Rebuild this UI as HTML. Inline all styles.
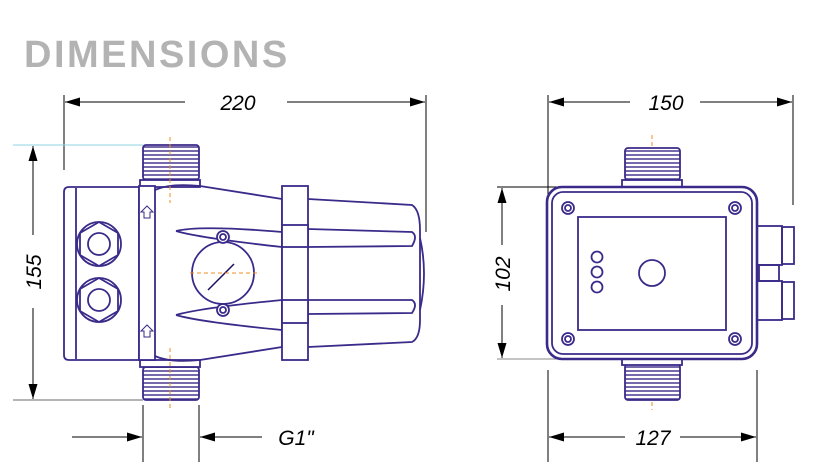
<!DOCTYPE html>
<html><head><style>
html,body{margin:0;padding:0;background:#fff;}
svg{display:block;}
text{font-family:"Liberation Sans",sans-serif;}
</style></head><body>
<svg width="840" height="467" viewBox="0 0 840 467" xmlns="http://www.w3.org/2000/svg">
<defs>
<marker id="a" viewBox="0 0 10 6" refX="10" refY="3" markerWidth="20" markerHeight="9" markerUnits="userSpaceOnUse" orient="auto"><path d="M0,0 L10,3 L0,6 Z" fill="#000"/></marker>
<pattern id="th" width="4" height="4" patternUnits="userSpaceOnUse"><rect width="4" height="4" fill="#fff"/><line x1="0" y1="3" x2="4" y2="3" stroke="#3b2a8a" stroke-width="1.4"/></pattern>
</defs>
<text x="24" y="67" font-size="38" font-weight="bold" fill="#b3b3b3" letter-spacing="2.5">DIMENSIONS</text>

<g stroke="#000" stroke-width="1" fill="none">
<line x1="64" y1="95" x2="64" y2="170"/>
<line x1="426" y1="95" x2="426" y2="232"/>
<line x1="185" y1="102" x2="65" y2="102" marker-end="url(#a)"/>
<line x1="287" y1="102" x2="425" y2="102" marker-end="url(#a)"/>
<line x1="33" y1="235" x2="33" y2="146" marker-end="url(#a)"/>
<line x1="33" y1="308" x2="33" y2="399" marker-end="url(#a)"/>
<line x1="143" y1="405" x2="143" y2="462"/>
<line x1="199" y1="405" x2="199" y2="462"/>
<line x1="72" y1="437" x2="142" y2="437" marker-end="url(#a)"/>
<line x1="262" y1="437" x2="200" y2="437" marker-end="url(#a)"/>
<line x1="548" y1="95" x2="548" y2="205"/>
<line x1="793" y1="95" x2="793" y2="205"/>
<line x1="630" y1="102" x2="549" y2="102" marker-end="url(#a)"/>
<line x1="700" y1="102" x2="792" y2="102" marker-end="url(#a)"/>
<line x1="497" y1="187" x2="560" y2="187"/>
<line x1="502" y1="245" x2="502" y2="188" marker-end="url(#a)"/>
<line x1="502" y1="305" x2="502" y2="358" marker-end="url(#a)"/>
<line x1="548" y1="370" x2="548" y2="462"/>
<line x1="757" y1="370" x2="757" y2="462"/>
<line x1="625" y1="437" x2="549" y2="437" marker-end="url(#a)"/>
<line x1="680" y1="437" x2="756" y2="437" marker-end="url(#a)"/>
</g>
<line x1="497" y1="359" x2="560" y2="359" stroke="#888" stroke-width="1"/>
<line x1="13" y1="145" x2="143" y2="145" stroke="#8fd3e0" stroke-width="1"/>
<line x1="13" y1="400" x2="143" y2="400" stroke="#888" stroke-width="1.2"/>

<g font-size="21" font-style="italic" fill="#000" text-anchor="middle">
<text x="238" y="110">220</text>
<text x="666" y="110">150</text>
<text x="653" y="445">127</text>
<text x="296" y="445">G1"</text>
<text transform="translate(41,272) rotate(-90)">155</text>
<text transform="translate(510,274) rotate(-90)">102</text>
</g>

<g stroke="#3b2a8a" stroke-width="1.8" fill="none">
<rect x="143" y="145" width="56" height="35" rx="3" fill="url(#th)"/>
<rect x="140" y="180" width="60" height="7" fill="#fff"/>
<rect x="143" y="367" width="56" height="33" rx="3" fill="url(#th)"/>
<rect x="140" y="360" width="60" height="7" fill="#fff"/>
<path d="M69,187 L139,187 L139,360 L69,360 Q64,360 64,355 L64,192 Q64,187 69,187 Z" fill="#fff"/>
<line x1="76" y1="188" x2="76" y2="359"/>
<rect x="139" y="186" width="16" height="174" fill="#fff"/>
<path d="M155,190 Q170,183 200,186 L282,199 L282,347 L200,360 Q170,363 155,356"/>
<rect x="282" y="186" width="26" height="174" fill="#fff"/>
<path d="M308,199 L412,205 Q420,210 420,230 L420,320 Q420,338 412,342 L308,347"/>
<path d="M420,238 Q428,273 420,310"/>
<path d="M176,231 Q200,225 282,232 M176,231 Q200,238 282,247"/>
<path d="M176,315 Q200,308 282,300 M176,315 Q200,322 282,330"/>
<rect x="282" y="225" width="26" height="22" fill="#fff"/>
<rect x="282" y="300" width="26" height="23" fill="#fff"/>
<path d="M308,229 L412,232 Q418,236 412,246 L308,247"/>
<path d="M308,300 L412,300 Q418,304 412,313 L308,314"/>
<circle cx="223" cy="273" r="31" fill="#fff"/>
<circle cx="223" cy="237" r="6" fill="#fff"/><circle cx="223" cy="237" r="3"/>
<circle cx="223" cy="310" r="6" fill="#fff"/><circle cx="223" cy="310" r="3"/>
<polygon points="99,222 118,233 118,255 99,266 80,255 80,233"/>
<circle cx="99" cy="244" r="22"/><circle cx="99" cy="244" r="11"/>
<polygon points="99,278 118,289 118,311 99,322 80,311 80,289"/>
<circle cx="99" cy="300" r="22"/><circle cx="99" cy="300" r="11"/>
<path d="M144,218 L144,212 L141,212 L147,206 L153,212 L150,212 L150,218 Z" stroke-width="1"/>
<path d="M144,337 L144,331 L141,331 L147,325 L153,331 L150,331 L150,337 Z" stroke-width="1"/>
</g>
<line x1="208" y1="290" x2="234" y2="264" stroke="#1a1060" stroke-width="1.5"/>
<g stroke="#f08c20" stroke-width="1" stroke-dasharray="4,3">
<line x1="170" y1="137" x2="170" y2="203"/>
<line x1="170" y1="348" x2="170" y2="410"/>
<line x1="190" y1="273" x2="258" y2="273"/>
<line x1="652" y1="135" x2="652" y2="203"/>
<line x1="652" y1="346" x2="652" y2="410"/>
</g>

<g stroke="#3b2a8a" stroke-width="1.8" fill="none">
<rect x="625" y="148" width="55" height="32" rx="3" fill="url(#th)"/>
<rect x="622" y="180" width="60" height="7" fill="#fff"/>
<rect x="625" y="364" width="55" height="36" rx="3" fill="url(#th)"/>
<rect x="622" y="358" width="60" height="7" fill="#fff"/>
<rect x="547" y="187" width="210" height="172" rx="15" fill="#fff" stroke-width="2.6"/>
<rect x="552" y="192" width="200" height="162" rx="11"/>
<rect x="578" y="217" width="148" height="113"/>
<circle cx="568" cy="208" r="6"/><circle cx="568" cy="208" r="3"/>
<circle cx="735" cy="208" r="6"/><circle cx="735" cy="208" r="3"/>
<circle cx="568" cy="339" r="6"/><circle cx="568" cy="339" r="3"/>
<circle cx="735" cy="339" r="6"/><circle cx="735" cy="339" r="3"/>
<circle cx="597" cy="257" r="5.5"/><circle cx="597" cy="272" r="5.5"/><circle cx="597" cy="287" r="5.5"/>
<circle cx="652" cy="273" r="13"/>
<rect x="757" y="226" width="25" height="39"/>
<rect x="782" y="227" width="12" height="37"/>
<rect x="757" y="281" width="25" height="39"/>
<rect x="782" y="282" width="12" height="37"/>
<rect x="759" y="265" width="20" height="16"/>
</g>
</svg>
</body></html>
